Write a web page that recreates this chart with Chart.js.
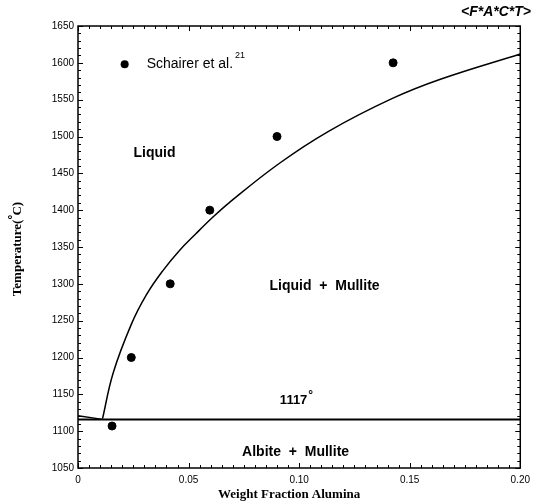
<!DOCTYPE html>
<html>
<head>
<meta charset="utf-8">
<script src="https://cdn.jsdelivr.net/npm/chart.js@4.4.1/dist/chart.umd.min.js"></script>
<style>
  html, body { margin: 0; padding: 0; background: #fff; }
  #c { display: block; }
</style>
</head>
<body>
<canvas id="c" width="536" height="504"></canvas>
<script>
// measured data (Schairer et al.)
var expX = [0.0154, 0.0241, 0.0417, 0.0596, 0.0900, 0.1425];
var expY = [1107, 1200, 1300, 1400, 1500, 1600];

// calculated liquidus
var curveX = [0.0111, 0.0159, 0.0241, 0.0309, 0.0384, 0.0458, 0.0533, 0.0608, 0.0683, 0.0908, 0.1133, 0.1417, 0.1642, 0.2000];
var curveY = [1117, 1179, 1245, 1285, 1318, 1345, 1368, 1390, 1410, 1463, 1507, 1551, 1578, 1612];

// eutectic line + short piece on the left
var eutX = [0, 0.2];
var eutY = [1116, 1116];
var leftX = [0, 0.0111];
var leftY = [1121, 1116];

var xTickValues = [0, 0.05, 0.10, 0.15, 0.20];
var xTickLabels = ['0', '0.05', '0.10', '0.15', '0.20'];
var yTickValues = [1050, 1100, 1150, 1200, 1250, 1300, 1350, 1400, 1450, 1500, 1550, 1600, 1650];

function pts(xs, ys) {
  return xs.map(function(x, i){ return {x: x, y: ys[i]}; });
}

var sans = '"Liberation Sans", Arial, sans-serif';
var serif = '"Liberation Serif", "Times New Roman", serif';

var decor = {
  id: 'decor',
  afterDraw: function(chart) {
    var ctx = chart.ctx, a = chart.chartArea;
    var xs = chart.scales.x, ys = chart.scales.y;
    ctx.save();
    ctx.strokeStyle = '#000';
    ctx.fillStyle = '#000';

    // frame
    ctx.lineWidth = 1.5;
    ctx.strokeRect(a.left, a.top, a.right - a.left, a.bottom - a.top);

    // inward ticks on all four sides
    ctx.lineWidth = 1;
    ctx.beginPath();
    var v, p, len;
    for (v = 1050; v <= 1650; v += 10) {
      p = Math.round(ys.getPixelForValue(v)) + 0.5;
      len = (v % 50 === 0) ? 5 : 3;
      ctx.moveTo(a.left, p); ctx.lineTo(a.left + len, p);
      ctx.moveTo(a.right, p); ctx.lineTo(a.right - len, p);
    }
    for (var i = 0; i <= 40; i++) {
      v = i * 0.005;
      p = Math.round(xs.getPixelForValue(v)) + 0.5;
      len = (i % 10 === 0) ? 5 : 3;
      ctx.moveTo(p, a.bottom); ctx.lineTo(p, a.bottom - len);
      ctx.moveTo(p, a.top); ctx.lineTo(p, a.top + len);
    }
    ctx.stroke();

    // legend
    var lx = xs.getPixelForValue(0.0211), ly = ys.getPixelForValue(1598);
    ctx.beginPath();
    ctx.arc(lx, ly, 4, 0, Math.PI * 2);
    ctx.fill();
    ctx.textBaseline = 'middle';
    ctx.textAlign = 'left';
    ctx.font = '14px ' + sans;
    ctx.fillText('Schairer et al.', lx + 22, ly);
    var w = ctx.measureText('Schairer et al.').width;
    ctx.font = '9px ' + sans;
    ctx.fillText('21', lx + 24 + w, ly - 9);

    // region labels
    ctx.textAlign = 'center';
    ctx.font = 'bold 14px ' + sans;
    ctx.fillText('Liquid', xs.getPixelForValue(0.0346), ys.getPixelForValue(1478));
    ctx.fillText('Liquid  +  Mullite', xs.getPixelForValue(0.1115), ys.getPixelForValue(1297));
    ctx.fillText('Albite  +  Mullite', xs.getPixelForValue(0.0984), ys.getPixelForValue(1072));

    ctx.font = 'bold 13px ' + sans;
    var tx = xs.getPixelForValue(0.0975), ty = ys.getPixelForValue(1142);
    ctx.fillText('1117', tx, ty);
    var tw = ctx.measureText('1117').width;
    ctx.font = 'bold 12px ' + sans;
    ctx.textAlign = 'left';
    ctx.fillText('°', tx + tw / 2 + 1, ty - 5);

    // top-right tag
    ctx.font = 'bold italic 14px ' + sans;
    ctx.textAlign = 'right';
    ctx.fillText('<F*A*C*T>', 531, 12);

    // axis titles
    ctx.font = 'bold 13px ' + serif;
    ctx.textAlign = 'center';
    ctx.fillText('Weight Fraction Alumina', (a.left + a.right) / 2 - 10, 495);

    ctx.save();
    ctx.translate(18, (a.top + a.bottom) / 2 + 2);
    ctx.rotate(-Math.PI / 2);
    ctx.font = 'bold 13px ' + serif;
    var t1 = 'Temperature(', t2 = 'C)';
    var w1 = ctx.measureText(t1).width, w2 = ctx.measureText(t2).width;
    var start = -(w1 + w2 + 4) / 2;
    ctx.textAlign = 'left';
    ctx.fillText(t1, start, 0);
    ctx.fillText(t2, start + w1 + 4, 0);
    ctx.font = 'bold 12px ' + sans;
    ctx.fillText('°', start + w1, -4);
    ctx.restore();

    ctx.restore();
  }
};

new Chart(document.getElementById('c'), {
  type: 'scatter',
  data: {
    datasets: [
      { data: pts(expX, expY), pointRadius: 4, pointHoverRadius: 4, backgroundColor: '#000', borderColor: '#000', showLine: false },
      { data: pts(curveX, curveY), showLine: true, pointRadius: 0, borderColor: '#000', borderWidth: 1.5, tension: 0.4, fill: false },
      { data: pts(eutX, eutY), showLine: true, pointRadius: 0, borderColor: '#000', borderWidth: 2, fill: false },
      { data: pts(leftX, leftY), showLine: true, pointRadius: 0, borderColor: '#000', borderWidth: 1.5, fill: false }
    ]
  },
  options: {
    responsive: false,
    animation: false,
    devicePixelRatio: 1,
    layout: { padding: { top: 26, right: 13, left: 0, bottom: 0 } },
    plugins: { legend: { display: false }, tooltip: { enabled: false } },
    scales: {
      x: {
        type: 'linear', min: 0, max: 0.2,
        grid: { display: false, drawTicks: false },
        border: { display: false },
        afterFit: function(s){ s.height = 36; },
        afterBuildTicks: function(s){ s.ticks = xTickValues.map(function(v){ return {value: v}; }); },
        ticks: {
          padding: 6, color: '#000', maxRotation: 0, autoSkip: false,
          font: { family: sans, size: 10 },
          callback: function(v, i){ return xTickLabels[i]; }
        }
      },
      y: {
        type: 'linear', min: 1050, max: 1650,
        grid: { display: false, drawTicks: false },
        border: { display: false },
        afterFit: function(s){ s.width = 78; },
        afterBuildTicks: function(s){ s.ticks = yTickValues.map(function(v){ return {value: v}; }); },
        ticks: {
          padding: 4, color: '#000', autoSkip: false,
          font: { family: sans, size: 10 },
          callback: function(v){ return String(v); }
        }
      }
    }
  },
  plugins: [decor]
});
</script>
</body>
</html>
